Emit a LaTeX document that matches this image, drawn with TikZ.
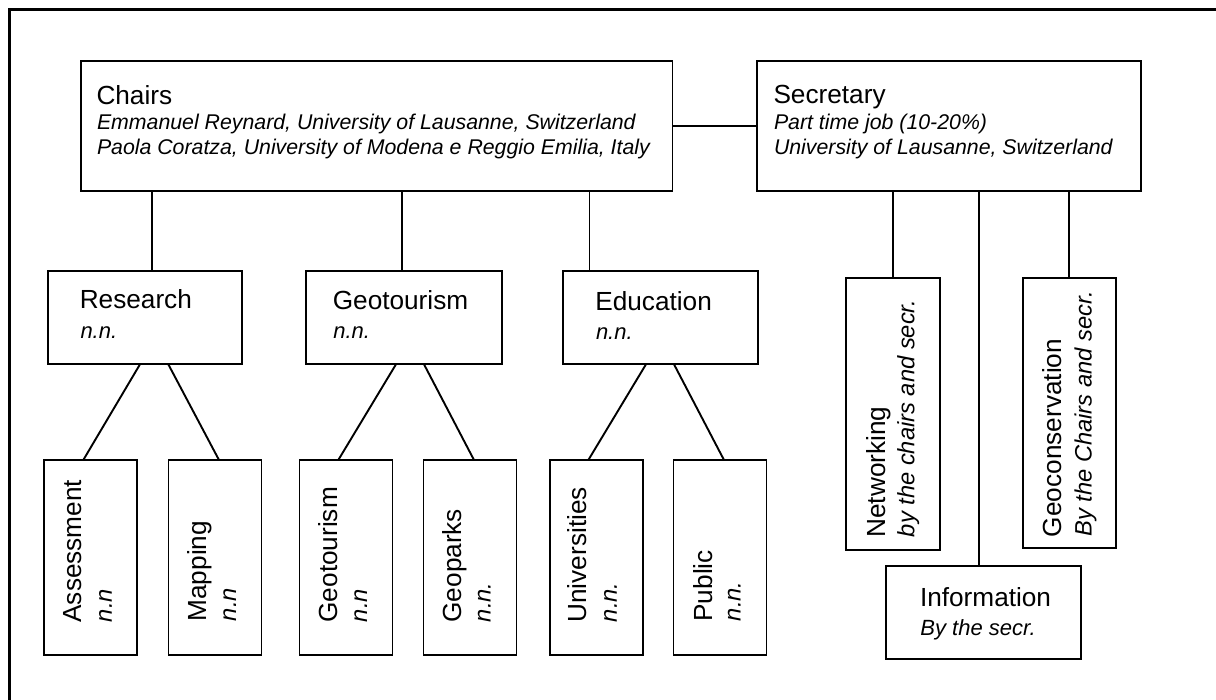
\documentclass[tikz,border=0pt]{standalone}
\usepackage{fontspec}
\setmainfont{Liberation Sans}
\begin{document}
\begin{tikzpicture}[x=1pt,y=-1pt,
  boxn/.style={draw, line width=1.9pt, inner sep=0pt, outer sep=0pt, fill=white},
  lbl/.style={anchor=base west, inner sep=0pt, outer sep=0pt, font=\fontsize{26.2}{30}\selectfont},
  itop/.style={anchor=base west, inner sep=0pt, outer sep=0pt, font=\fontsize{21.3}{25}\selectfont\itshape},
  imid/.style={anchor=base west, inner sep=0pt, outer sep=0pt, font=\fontsize{22}{26}\selectfont\itshape},
  vlbl/.style={lbl, rotate=90},
  vit/.style={anchor=base west, inner sep=0pt, outer sep=0pt, rotate=90, font=\fontsize{23.7}{28}\selectfont\itshape},
  link/.style={line width=1.9pt},
  frame/.style={line width=2.8pt}]
\useasboundingbox[fill=white] (0,0) rectangle (1216,700);
\coordinate (fbl) at (9.2,700);
\coordinate (ftl) at (9.2,9.7);
\coordinate (ftr) at (1216,9.7);
\draw[frame] (fbl) -- (ftl) -- (ftr);

% top boxes
\node[boxn, minimum width=591.5pt, minimum height=130pt] (chairs) at (376.75,126) {};
\node[boxn, minimum width=384pt, minimum height=130pt] (secr) at (949,126) {};
% middle boxes
\node[boxn, minimum width=194.6pt, minimum height=93.3pt] (research) at (145,317.65) {};
\node[boxn, minimum width=195.7pt, minimum height=93.3pt] (geot) at (403.85,317.65) {};
\node[boxn, minimum width=194.4pt, minimum height=93.3pt] (edu) at (660.5,317.65) {};
% leaves
\node[boxn, minimum width=93pt, minimum height=195pt] (assess) at (90.8,557.5) {};
\node[boxn, minimum width=93pt, minimum height=195pt] (mapping) at (215,557.5) {};
\node[boxn, minimum width=93pt, minimum height=195pt] (geotl) at (346,557.5) {};
\node[boxn, minimum width=93pt, minimum height=195pt] (geoparks) at (470,557.5) {};
\node[boxn, minimum width=93pt, minimum height=195pt] (univ) at (596.35,557.5) {};
\node[boxn, minimum width=93pt, minimum height=195pt] (public) at (720,557.5) {};
% secretary children
\node[boxn, minimum width=93.7pt, minimum height=271.7pt] (netw) at (893,414.15) {};
\node[boxn, minimum width=93.3pt, minimum height=269.7pt] (geocons) at (1069.35,413.15) {};
\node[boxn, minimum width=195.3pt, minimum height=93.6pt] (info) at (983.65,612.5) {};

% connectors
\draw[link] (chairs.east) -- (secr.west);
\draw[link] ([xshift=7.2pt]research.north) -- ([xshift=7.2pt]research.north |- chairs.south);
\draw[link] ([xshift=-2.3pt]geot.north) -- ([xshift=-2.3pt]geot.north |- chairs.south);
\draw[link] ([xshift=-71pt]edu.north) -- ([xshift=-71pt]edu.north |- chairs.south);
\draw[link] (netw.north) -- (netw.north |- secr.south);
\draw[link] (geocons.north) -- (geocons.north |- secr.south);
\draw[link] ([xshift=-4.4pt]info.north) -- ([xshift=-4.4pt]info.north |- secr.south);
\draw[link] ([xshift=-5pt]research.south) -- ([xshift=-7.5pt]assess.north);
\draw[link] ([xshift=23.3pt]research.south) -- ([xshift=4pt]mapping.north);
\draw[link] ([xshift=-7.85pt]geot.south) -- ([xshift=-7.7pt]geotl.north);
\draw[link] ([xshift=20.15pt]geot.south) -- ([xshift=4pt]geoparks.north);
\draw[link] ([xshift=-14.5pt]edu.south) -- ([xshift=-8pt]univ.north);
\draw[link] ([xshift=13.5pt]edu.south) -- ([xshift=4pt]public.north);

% texts top
\node[lbl] (chairsT) at (96.5,105) {Chairs};
\node[itop] (chairsA) at (97,130) {Emmanuel Reynard, University of Lausanne, Switzerland};
\node[itop] (chairsB) at (97,155) {Paola Coratza, University of Modena e Reggio Emilia, Italy};
\node[lbl] (secrT) at (773.5,104) {Secretary};
\node[itop] (secrA) at (774,130) {Part time job (10-20\%)};
\node[itop] (secrB) at (774,155) {University of Lausanne, Switzerland};
% texts middle
\node[lbl] (researchT) at (79.8,308.3) {Research};
\node[imid] (researchA) at (80.5,338.3) {n.n.};
\node[lbl] (geotT) at (332.8,309.3) {Geotourism};
\node[imid] (geotA) at (333.3,338.3) {n.n.};
\node[lbl] (eduT) at (595.3,311) {Education};
\node[imid] (eduA) at (596,340) {n.n.};
\node[lbl] (infoT) at (920,606.7) {Information};
\node[imid] (infoA) at (920.4,635) {By the secr.};
% vertical texts
\node[vlbl] (assessT) at (81.8,622.5) {Assessment};
\node[vit] (assessA) at (111.8,622) {n.n};
\node[vlbl] (mappingT) at (206,621.5) {Mapping};
\node[vit] (mappingA) at (236,621) {n.n};
\node[vlbl] (geotlT) at (337,622.5) {Geotourism};
\node[vit] (geotlA) at (367,622) {n.n};
\node[vlbl] (geoparksT) at (461.5,622.5) {Geoparks};
\node[vit] (geoparksA) at (490.5,622) {n.n.};
\node[vlbl] (univT) at (586.5,622.5) {Universities};
\node[vit] (univA) at (616.8,622) {n.n.};
\node[vlbl] (publicT) at (712,621.5) {Public};
\node[vit] (publicA) at (740.5,621) {n.n.};
\node[vlbl] (netwT) at (885,537.5) {Networking};
\node[vit] (netwA) at (914.3,537) {by the chairs and secr.};
\node[vlbl] (geoconsT) at (1061.7,537) {Geoconservation};
\node[vit] (geoconsA) at (1091.7,536.5) {By the Chairs and secr.};
\end{tikzpicture}
\end{document}
